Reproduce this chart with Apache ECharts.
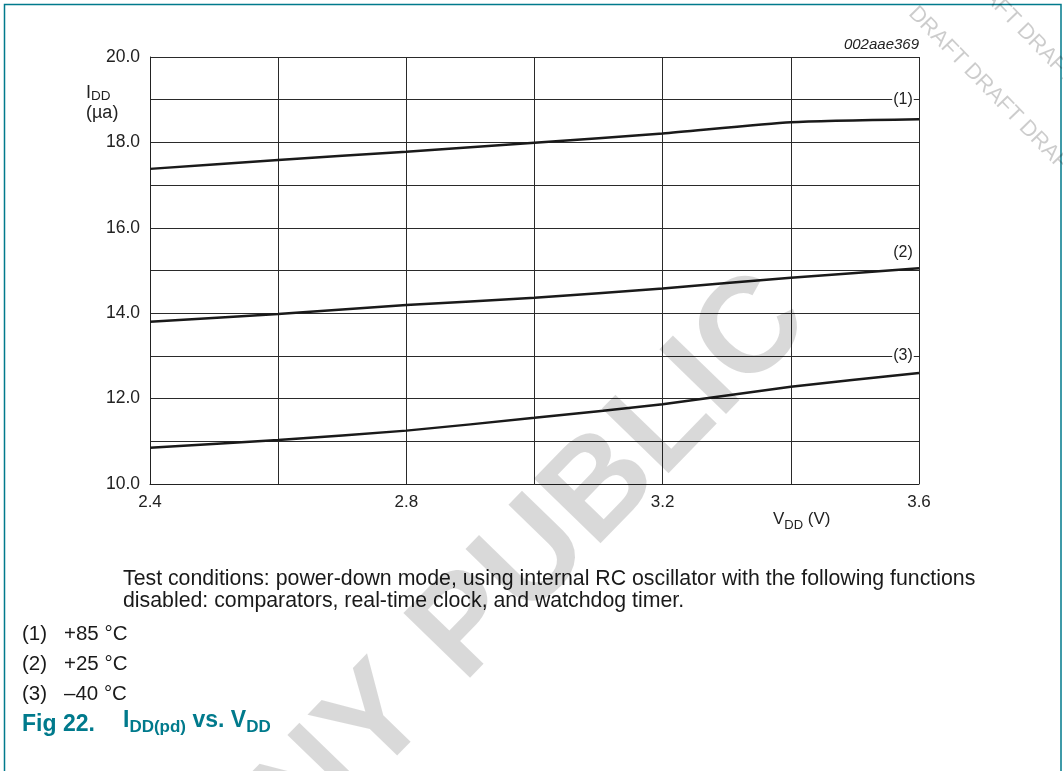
<!DOCTYPE html>
<html>
<head>
<meta charset="utf-8">
<script src="https://cdn.jsdelivr.net/npm/echarts@6/dist/echarts.min.js"></script>
<style>
html,body{margin:0;padding:0;background:#fff;}
#chart{width:1063px;height:771px;}
</style>
</head>
<body>
<div id="chart"></div>
<script>
// ---- data ----
const vdd = [2.4, 2.6, 2.8, 3.0, 3.2, 3.4, 3.6];
const idd85 = [17.38, 17.59, 17.78, 17.99, 18.21, 18.47, 18.54];
const idd25 = [13.80, 13.98, 14.19, 14.36, 14.58, 14.83, 15.05];
const iddM40 = [10.85, 11.03, 11.25, 11.55, 11.87, 12.28, 12.60];
const curveLabels = ['(1)', '(2)', '(3)'];
const legendTemps = ['+85 \u00B0C', '+25 \u00B0C', '\u201340 \u00B0C'];
const xTickLabels = ['2.4', '2.8', '3.2', '3.6'];
const yTickLabels = ['10.0', '12.0', '14.0', '16.0', '18.0', '20.0'];

const FONT = '"Liberation Sans", Arial, Helvetica, sans-serif';
const TEAL = '#007a8c';
const INK = '#1a1a1a';
const BODY = 20.5;

function pairs(ys) { return vdd.map((x, i) => [x, ys[i]]); }

const chart = echarts.init(document.getElementById('chart'), null, {renderer: 'canvas'});

function lineSeries(name, ys, labelText, labelCoord) {
  return {
    name: name,
    type: 'line',
    data: pairs(ys),
    smooth: 0.2,
    symbol: 'none',
    lineStyle: {color: INK, width: 2.5},
    z: 3,
    silent: true,
    markPoint: {
      symbol: 'circle', symbolSize: 0,
      silent: true,
      data: [{coord: labelCoord, value: labelText}],
      label: {
        show: true, position: 'inside', formatter: labelText,
        fontFamily: FONT, fontSize: 16, color: '#222',
        backgroundColor: labelText === '(2)' ? 'transparent' : '#fff',
        padding: [0, 1, 0, 1]
      }
    }
  };
}

const bodyStyle = (t) => ({text: t, font: BODY + 'px ' + FONT, fill: '#1a1a1a', lineHeight: 24});

const option = {
  animation: false,
  backgroundColor: '#fff',
  grid: {left: 150, right: 144, top: 57, bottom: 287, containLabel: false},
  xAxis: {
    type: 'value', min: 2.4, max: 3.6, interval: 0.2,
    axisLine: {show: true, lineStyle: {color: '#222', width: 1}},
    axisTick: {show: false},
    splitLine: {show: true, lineStyle: {color: '#2a2a2a', width: 1}},
    axisLabel: {
      fontFamily: FONT, fontSize: 17, color: '#222', margin: 10,
      formatter: function (v) {
        const s = v.toFixed(1);
        return xTickLabels.indexOf(s) >= 0 ? s : '';
      }
    }
  },
  yAxis: {
    type: 'value', min: 10, max: 20, interval: 1,
    axisLine: {show: true, lineStyle: {color: '#222', width: 1}},
    axisTick: {show: false},
    splitLine: {show: true, lineStyle: {color: '#2a2a2a', width: 1}},
    axisLabel: {
      fontFamily: FONT, fontSize: 17.5, color: '#222', margin: 10,
      formatter: function (v) {
        const s = v.toFixed(1);
        return yTickLabels.indexOf(s) >= 0 ? s : '';
      }
    }
  },
  series: [
    lineSeries('+85', idd85, curveLabels[0], [3.575, 19.0]),
    lineSeries('+25', idd25, curveLabels[1], [3.575, 15.43]),
    lineSeries('-40', iddM40, curveLabels[2], [3.575, 13.0])
  ],
  graphic: [
    // frame
    {type: 'polyline', shape: {points: [[4.5, 771], [4.5, 4.5], [1061, 4.5], [1061, 771]]},
     style: {stroke: TEAL, lineWidth: 1.5, fill: null}, z: 10},
    // y axis name
    {type: 'text', left: 86, top: 83, z: 10,
     style: {text: '{m|I}{s|DD}\n{m|(\u00B5a)}', font: '18px ' + FONT,
       rich: {m: {fontSize: 18, fontFamily: FONT, fill: '#222', lineHeight: 20, verticalAlign: 'middle'},
              s: {fontSize: 13.5, fontFamily: FONT, fill: '#222', lineHeight: 20, verticalAlign: 'bottom', padding: [6, 0, 0, 0]}}}},
    // x axis name
    {type: 'text', left: 773, top: 511, z: 10,
     style: {text: '{m|V}{s|DD}{m| (V)}', font: '17px ' + FONT,
       rich: {m: {fontSize: 17, fontFamily: FONT, fill: '#222', lineHeight: 24, verticalAlign: 'middle'},
              s: {fontSize: 13, fontFamily: FONT, fill: '#222', lineHeight: 24, verticalAlign: 'bottom', padding: [7, 0, 0, 0]}}}},
    // figure id
    {type: 'text', right: 144, top: 37, z: 10,
     style: {text: '002aae369', font: 'italic 15px ' + FONT, fill: '#222'}},
    // notes
    {type: 'text', left: 123, top: 568, z: 10,
     style: {text: 'Test conditions: power-down mode, using internal RC oscillator with the following functions\ndisabled: comparators, real-time clock, and watchdog timer.',
       font: '21.3px ' + FONT, fill: '#1a1a1a', lineHeight: 22}},
    {type: 'text', left: 22, top: 622, z: 10, style: bodyStyle('(1)')},
    {type: 'text', left: 64, top: 622, z: 10, style: bodyStyle(legendTemps[0])},
    {type: 'text', left: 22, top: 652, z: 10, style: bodyStyle('(2)')},
    {type: 'text', left: 64, top: 652, z: 10, style: bodyStyle(legendTemps[1])},
    {type: 'text', left: 22, top: 682, z: 10, style: bodyStyle('(3)')},
    {type: 'text', left: 64, top: 682, z: 10, style: bodyStyle(legendTemps[2])},
    // figure title
    {type: 'text', left: 22, top: 711, z: 10,
     style: {text: 'Fig 22.', font: 'bold 23px ' + FONT, fill: TEAL, lineHeight: 28}},
    {type: 'text', left: 123, top: 709, z: 10,
     style: {text: '{m|I}{s|DD(pd)}{m| vs. V}{s|DD}', font: 'bold 23px ' + FONT,
       rich: {m: {fontSize: 23, fontWeight: 'bold', fontFamily: FONT, fill: TEAL, lineHeight: 30, verticalAlign: 'middle'},
              s: {fontSize: 17, fontWeight: 'bold', fontFamily: FONT, fill: TEAL, lineHeight: 30, verticalAlign: 'bottom', padding: [8, 0, 0, 0]}}}},
    // watermarks
    {type: 'text', x: 612, y: 478, rotation: 0.80, z: 20, silent: true,
     style: {text: 'PUBLIC', font: 'bold 135px ' + FONT, fill: 'rgba(0,0,0,0.15)', align: 'center', verticalAlign: 'middle'}},
    {type: 'text', x: 612 - 0.69 * 295, y: 478 + 0.72 * 295, rotation: 0.80, z: 20, silent: true,
     style: {text: 'COMPANY', font: 'bold 135px ' + FONT, fill: 'rgba(0,0,0,0.15)', align: 'right', verticalAlign: 'middle'}},
    {type: 'text', x: 912, y: 10, rotation: -0.80, z: 20, silent: true,
     style: {text: 'DRAFT DRAFT DRAFT', font: '22px ' + FONT, fill: 'rgba(0,0,0,0.2)', align: 'left', verticalAlign: 'middle'}},
    {type: 'text', x: 965, y: -30, rotation: -0.80, z: 20, silent: true,
     style: {text: 'DRAFT DRAFT', font: '22px ' + FONT, fill: 'rgba(0,0,0,0.2)', align: 'left', verticalAlign: 'middle'}}
  ]
};
chart.setOption(option);
</script>
</body>
</html>
